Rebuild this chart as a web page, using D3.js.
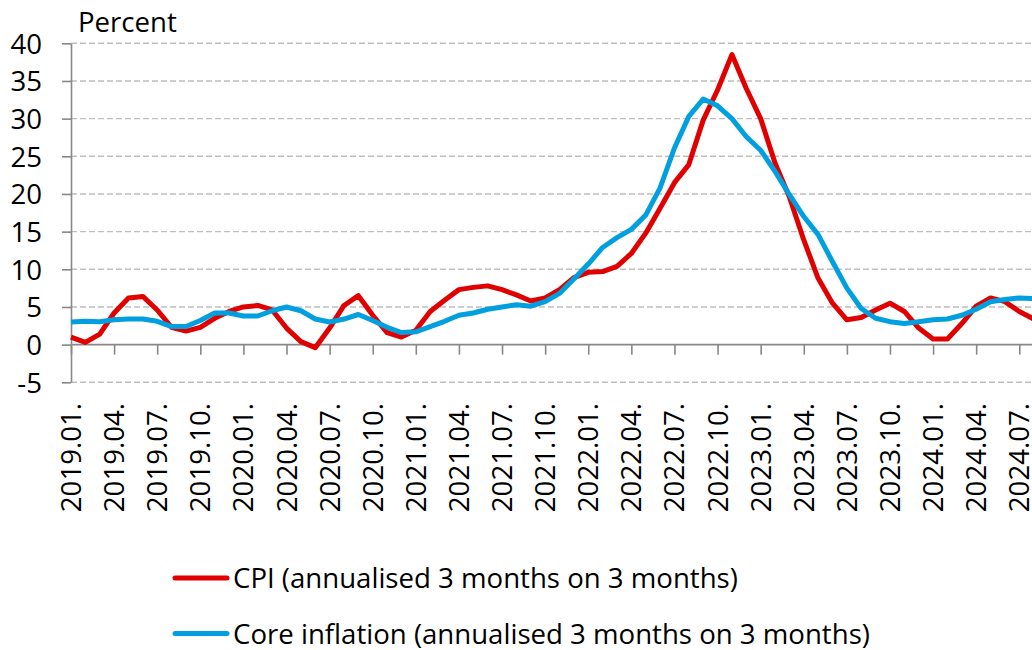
<!DOCTYPE html>
<html><head><meta charset="utf-8">
<script src="https://cdn.jsdelivr.net/npm/d3@7"></script>
<style>
html,body{margin:0;padding:0;background:#fff;}
svg{display:block;}
</style>
</head><body>
<svg id="c" width="1032" height="650"></svg>
<script>
const categories = [
"2019.01.","2019.02.","2019.03.","2019.04.","2019.05.","2019.06.","2019.07.","2019.08.","2019.09.","2019.10.","2019.11.","2019.12.",
"2020.01.","2020.02.","2020.03.","2020.04.","2020.05.","2020.06.","2020.07.","2020.08.","2020.09.","2020.10.","2020.11.","2020.12.",
"2021.01.","2021.02.","2021.03.","2021.04.","2021.05.","2021.06.","2021.07.","2021.08.","2021.09.","2021.10.","2021.11.","2021.12.",
"2022.01.","2022.02.","2022.03.","2022.04.","2022.05.","2022.06.","2022.07.","2022.08.","2022.09.","2022.10.","2022.11.","2022.12.",
"2023.01.","2023.02.","2023.03.","2023.04.","2023.05.","2023.06.","2023.07.","2023.08.","2023.09.","2023.10.","2023.11.","2023.12.",
"2024.01.","2024.02.","2024.03.","2024.04.","2024.05.","2024.06.","2024.07.","2024.08."];

const cpi = [
1.0,0.3,1.4,4.2,6.2,6.4,4.6,2.3,1.8,2.3,3.5,4.4,
5.0,5.2,4.6,2.2,0.4,-0.4,2.2,5.2,6.5,3.9,1.6,1.0,
1.9,4.4,5.9,7.3,7.6,7.8,7.3,6.6,5.8,6.2,7.3,8.9,
9.6,9.7,10.4,12.1,14.8,18.1,21.5,23.9,29.8,33.8,38.5,34.0,
30.0,24.1,19.6,13.9,8.8,5.5,3.3,3.6,4.6,5.5,4.4,2.2,
0.75,0.75,2.8,5.1,6.2,5.7,4.4,3.4];

const core = [
3.0,3.1,3.05,3.3,3.4,3.4,3.1,2.4,2.4,3.2,4.2,4.2,
3.8,3.8,4.5,5.0,4.5,3.4,3.0,3.4,4.0,3.2,2.3,1.6,
1.7,2.4,3.1,3.9,4.2,4.7,5.0,5.3,5.1,5.7,6.8,8.7,
10.7,12.9,14.2,15.3,17.2,20.8,26.1,30.3,32.6,31.7,30.0,27.6,
25.8,23.0,19.9,17.0,14.6,11.0,7.5,4.8,3.5,3.05,2.8,3.05,
3.3,3.4,3.9,4.7,5.7,6.0,6.2,6.1];

const yTicks = [-5,0,5,10,15,20,25,30,35,40];
const seriesNames = ["CPI (annualised 3 months on 3 months)","Core inflation (annualised 3 months on 3 months)"];
const seriesColors = ["#e00000","#00a0e0"];

const FONT = "'Open Sans','Noto Sans',sans-serif";
const FS = "27.6px";

const svg = d3.select("#c");
const x0 = 71, step = 14.368;
const x = d3.scalePoint().domain(categories).range([x0, x0 + step*(categories.length-1)]);
const y = d3.scaleLinear().domain([-5,40]).range([382.3, 43.3]);

// gridlines
svg.append("g").selectAll("line").data(yTicks.filter(d=>d!==0)).join("line")
  .attr("x1", x0).attr("x2", 1032)
  .attr("y1", d=>y(d)).attr("y2", d=>y(d))
  .attr("stroke","#bfbfbf").attr("stroke-width",1.4).attr("stroke-dasharray","6,3");

// y axis
const yAxis = d3.axisLeft(y).tickValues(yTicks).tickSize(9).tickSizeOuter(0).tickFormat(d=>String(d));
const gy = svg.append("g").attr("transform",`translate(${x0},0)`).call(yAxis);
gy.select(".domain").attr("stroke","#888").attr("stroke-width",1.6);
gy.selectAll(".tick line").attr("stroke","#888").attr("stroke-width",1.6);
gy.selectAll(".tick text").attr("x",-29).attr("dy","0.36em")
  .style("font-family",FONT).style("font-size",FS).attr("fill","#000");

// x axis at zero
const xAxis = d3.axisBottom(x).tickValues(categories.filter((d,i)=>i%3===0)).tickSize(10).tickSizeOuter(0).tickFormat("");
const gx = svg.append("g").attr("transform",`translate(0,${y(0)})`).call(xAxis);
gx.select(".domain").attr("stroke","#888").attr("stroke-width",1.8).attr("d",`M${x0},0H1032`);
gx.selectAll(".tick line").attr("stroke","#888").attr("stroke-width",1.6);

// x labels
svg.append("g").selectAll("text").data(categories.filter((d,i)=>i%3===0)).join("text")
  .attr("transform", d=>`translate(${x(d)+10},${403}) rotate(-90)`)
  .attr("text-anchor","end")
  .style("font-family",FONT).style("font-size",FS)
  .text(d=>d);

// lines
const line = d3.line().x((d,i)=>x(categories[i])).y(d=>y(d));
[cpi, core].forEach((s,k)=>{
  svg.append("path").datum(s).attr("d",line)
    .attr("fill","none").attr("stroke",seriesColors[k]).attr("stroke-width",5)
    .attr("stroke-linejoin","round");
});

// title
svg.append("text").attr("x",78).attr("y",32)
  .style("font-family",FONT).style("font-size",FS)
  .text("Percent");

// legend
const legLineY = [578, 633.5];
const legBase = [588, 643.5];
seriesNames.forEach((n,k)=>{
  svg.append("line").attr("x1",175).attr("x2",227).attr("y1",legLineY[k]).attr("y2",legLineY[k])
    .attr("stroke",seriesColors[k]).attr("stroke-width",5).attr("stroke-linecap","round");
  svg.append("text").attr("x",233).attr("y",legBase[k])
    .style("font-family",FONT).style("font-size",FS)
    .text(n);
});
</script>
</body></html>
